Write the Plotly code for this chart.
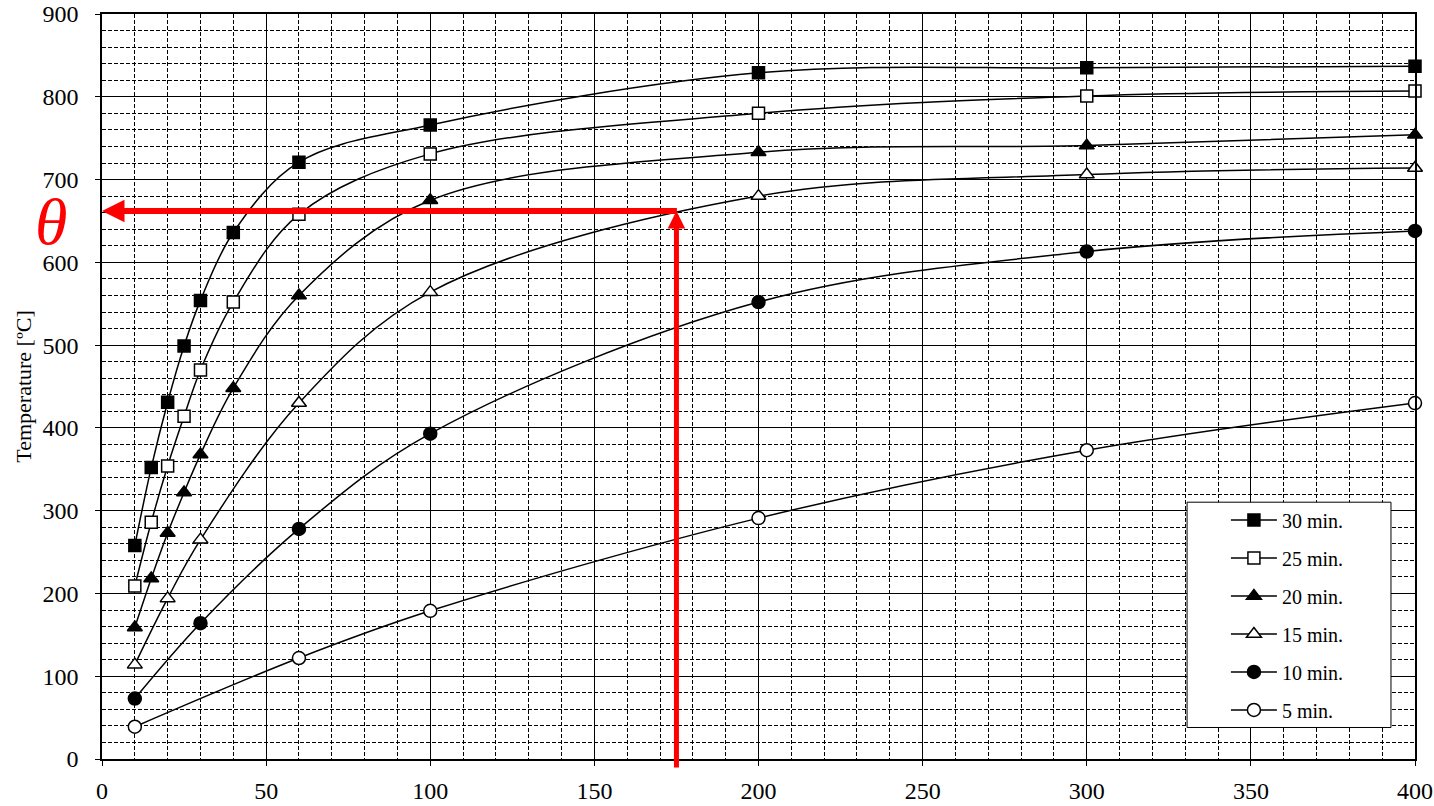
import plotly.graph_objects as go

# ---- data ----
x_30 = [10, 15, 20, 25, 30, 40, 60, 100, 200, 300, 400]
y_30 = [258, 352, 431, 499, 554, 636, 721, 766, 829, 835, 837]
x_25 = [10, 15, 20, 25, 30, 40, 60, 100, 200, 300, 400]
y_25 = [209, 286, 354, 414, 470, 552, 658, 731, 780, 801, 807]
x_20 = [10, 15, 20, 25, 30, 40, 60, 100, 200, 300, 400]
y_20 = [159, 218, 273, 322, 368, 448, 560, 675, 733, 741, 754]
x_15 = [10, 20, 30, 60, 100, 200, 300, 400]
y_15 = [114, 194, 265, 430, 564, 680, 706, 714]
x_10 = [10, 30, 60, 100, 200, 300, 400]
y_10 = [73, 164, 278, 393, 552, 613, 638]
x_5 = [10, 60, 100, 200, 300, 400]
y_5 = [39, 122, 179, 291, 373, 430]

series_names = ["30 min.", "25 min.", "20 min.", "15 min.", "10 min.", "5 min."]
x_ticks = [0, 50, 100, 150, 200, 250, 300, 350, 400]
x_tick_labels = ["0", "50", "100", "150", "200", "250", "300", "350", "400"]
y_ticks = [0, 100, 200, 300, 400, 500, 600, 700, 800, 900]
y_tick_labels = ["0", "100", "200", "300", "400", "500", "600", "700", "800", "900"]

theta_x = 175
theta_y = 662

FONT = "Liberation Serif, Times New Roman, serif"

series = [
    (x_30, y_30, "square", "black"),
    (x_25, y_25, "square", "white"),
    (x_20, y_20, "triangle-up", "black"),
    (x_15, y_15, "triangle-up", "white"),
    (x_10, y_10, "circle", "black"),
    (x_5, y_5, "circle", "white"),
]

fig = go.Figure()
for (xs, ys, sym, fill), name in zip(series, series_names):
    size = 12 if sym == "square" else 13
    fig.add_trace(go.Scatter(
        x=xs, y=ys, name=name, mode="lines+markers",
        line=dict(color="black", width=1.5, shape="spline", smoothing=1.0),
        marker=dict(symbol=sym, size=size, color=fill,
                    line=dict(color="black", width=1.5)),
        cliponaxis=False, legendgroup=name,
    ))

# red arrows
fig.add_annotation(x=0, y=theta_y, ax=theta_x + 0.6, ay=theta_y,
                   xref="x", yref="y", axref="x", ayref="y",
                   text="", showarrow=True, arrowhead=2, arrowsize=0.75,
                   arrowwidth=6, arrowcolor="red", standoff=0, startstandoff=0)
fig.add_annotation(x=theta_x, y=theta_y, ax=theta_x, ay=-12,
                   xref="x", yref="y", axref="x", ayref="y",
                   text="", showarrow=True, arrowhead=2, arrowsize=0.7,
                   arrowwidth=5, arrowcolor="red", standoff=0, startstandoff=0)
fig.add_annotation(x=-0.039, y=0.722, xref="paper", yref="paper", text="<i>θ</i>",
                   showarrow=False, xanchor="center", yanchor="middle",
                   font=dict(family=FONT, size=66, color="red"))

# legend box
fig.add_shape(type="rect", xref="paper", yref="paper",
              x0=0.8264, x1=0.9817, y0=0.0423, y1=0.3447,
              line=dict(color="black", width=1), fillcolor="white", layer="above")

axis_common = dict(
    showline=True, linecolor="black", linewidth=1.5, mirror=True,
    showgrid=True, gridcolor="black", gridwidth=1.2,
    ticks="outside", ticklen=5, tickcolor="black", tickwidth=1.2,
    tickfont=dict(family=FONT, size=24, color="black"),
    zeroline=False, automargin=False,
)

fig.update_xaxes(range=[0, 400], tickvals=x_ticks, ticktext=x_tick_labels,
                 minor=dict(dtick=10, showgrid=True, gridcolor="black",
                            griddash="4px,2px", gridwidth=1),
                 ticklabelstandoff=4, **axis_common)
fig.update_yaxes(range=[0, 900], tickvals=y_ticks, ticktext=y_tick_labels,
                 minor=dict(dtick=20, showgrid=True, gridcolor="black",
                            griddash="4px,2px", gridwidth=1),
                 ticklabelstandoff=12,
                 title=dict(text="Temperature [ºC]", standoff=5,
                            font=dict(family=FONT, size=22, color="black")),
                 **axis_common)

fig.update_layout(
    width=1434, height=806,
    margin=dict(l=102, r=19, t=14, b=47),
    paper_bgcolor="white", plot_bgcolor="white",
    font=dict(family=FONT, color="black"),
    legend=dict(x=0.856, y=0.347, xanchor="left", yanchor="top",
                bgcolor="rgba(0,0,0,0)", borderwidth=0,
                font=dict(family=FONT, size=20, color="black"),
                tracegroupgap=9, itemwidth=46),
)

fig.write_html("out.html")
